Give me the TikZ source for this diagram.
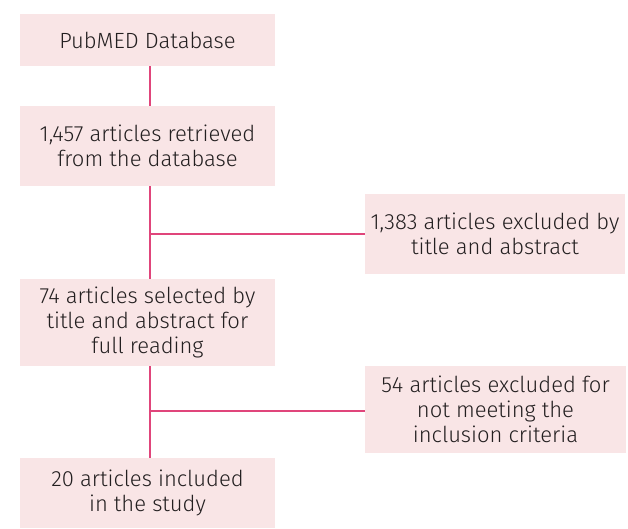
\documentclass[tikz,border=0pt]{standalone}
\usepackage{fontspec}
\setmainfont{Fira Sans}[UprightFont=* Light]
\definecolor{boxfill}{HTML}{F9E5E6}
\definecolor{linkcol}{HTML}{E0457B}
\definecolor{txt}{HTML}{231F20}
\begin{document}
\begin{tikzpicture}[x=1pt,y=-1pt,
  flowbox/.style={rectangle, fill=boxfill, draw=none, text=txt, align=center,
    font=\fontsize{22}{25}\selectfont, inner sep=0pt},
  link/.style={draw=linkcol, line width=2.4pt}]
\useasboundingbox (0,0) rectangle (628,528);
\node[flowbox, minimum width=255pt, minimum height=52pt] (b1) at (147.5,40) {PubMED Database};
\node[flowbox, minimum width=255pt, minimum height=80pt] (b2) at (147.5,146) {1,457 articles retrieved\\from the database};
\node[flowbox, minimum width=260pt, minimum height=80pt] (b3) at (495,234) {1,383 articles excluded by\\title and abstract};
\node[flowbox, minimum width=255pt, minimum height=87pt] (b4) at (147.5,322.5) {74 articles selected by\\title and abstract for\\full reading};
\node[flowbox, minimum width=261pt, minimum height=87pt] (b5) at (495.5,409.5) {54 articles excluded for\\not meeting the\\inclusion criteria};
\node[flowbox, minimum width=255pt, minimum height=70pt] (b6) at (147.5,493) {20 articles included\\in the study};
\coordinate (j1) at (150,234);
\coordinate (j2) at (150,411);
\draw[link] (b1.south -| j1) -- (b2.north -| j1);
\draw[link] (b2.south -| j1) -- (b4.north -| j1);
\draw[link] (j1) -- (j1 -| b3.west);
\draw[link] (b4.south -| j2) -- (b6.north -| j2);
\draw[link] (j2) -- (j2 -| b5.west);
\end{tikzpicture}
\end{document}
